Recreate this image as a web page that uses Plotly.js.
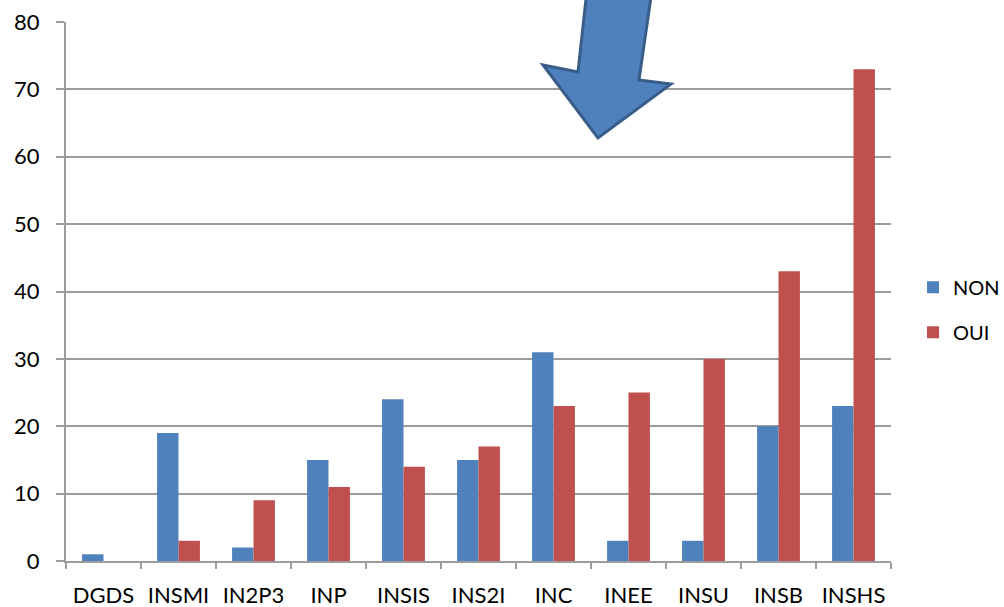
<!DOCTYPE html>
<html>
<head>
<meta charset="utf-8">
<script src="https://cdn.plot.ly/plotly-3.0.1.min.js"></script>
<style>html,body{margin:0;padding:0;background:#fff;}#chart{width:1004px;height:607px;}</style>
</head>
<body>
<div id="chart"></div>
<script>
const categories = ["DGDS","INSMI","IN2P3","INP","INSIS","INS2I","INC","INEE","INSU","INSB","INSHS"];
const nonValues = [1,19,2,15,24,15,31,3,3,20,23];
const ouiValues = [0,3,9,11,14,17,23,25,30,43,73];
const yTicks = [0,10,20,30,40,50,60,70,80];

const font = "Lato, 'Open Sans', 'Liberation Sans', sans-serif";
const gridColor = "#9c9c9c";

// plot area geometry (pixels) used only for the decorative arrow
const L = 66, T = 22, W = 825, H = 539;
function px(x){return ((x - L)/W).toFixed(4);}
function py(y){return ((T + H - y)/H).toFixed(4);}
const arrowPts = [[587,-10],[578,72],[543,65],[598,138],[671,84],[639,80],[652,-10]];
const arrowPath = "M" + arrowPts.map(p => px(p[0]) + "," + py(p[1])).join(" L") + " Z";

const data = [
  {type:"bar", name:"NON", x:categories, y:nonValues, marker:{color:"#4F81BD"}, legendgroup:"a"},
  {type:"bar", name:"OUI", x:categories, y:ouiValues, marker:{color:"#C0504D"}, legendgroup:"b"}
];

const layout = {
  width:1004, height:607,
  margin:{l:66, r:113, t:22, b:46, autoexpand:false},
  paper_bgcolor:"#fff", plot_bgcolor:"#fff",
  barmode:"group", bargap:0.4286, bargroupgap:0,
  font:{family:font, size:21, color:"#000"},
  showlegend:true,
  legend:{x:1.0267, xanchor:"left", y:0.466, yanchor:"middle", tracegroupgap:16,
          font:{family:font, size:20, color:"#000"}, bgcolor:"rgba(0,0,0,0)"},
  xaxis:{type:"category", tickson:"boundaries", ticks:"outside", ticklen:6, tickcolor:gridColor, tickwidth:2,
         showline:true, linecolor:gridColor, linewidth:2, showgrid:false, automargin:false,
         tickfont:{family:font, size:22, color:"#000"}, ticklabelstandoff:14,
         range:[-0.5,10.5], fixedrange:true},
  yaxis:{range:[0,80], tickvals:yTicks, ticks:"outside", ticklen:8, tickcolor:gridColor, tickwidth:2,
         showline:true, linecolor:gridColor, linewidth:2, automargin:false,
         showgrid:true, gridcolor:gridColor, gridwidth:2, zeroline:false,
         tickfont:{family:font, size:22, color:"#000"}, ticklabelstandoff:12, fixedrange:true},
  shapes:[{type:"path", xref:"paper", yref:"paper", path:arrowPath,
           fillcolor:"#4F81BD", line:{color:"#385D8A", width:3}, layer:"above"}]
};

Plotly.newPlot("chart", data, layout, {staticPlot:true, displayModeBar:false});
</script>
</body>
</html>
